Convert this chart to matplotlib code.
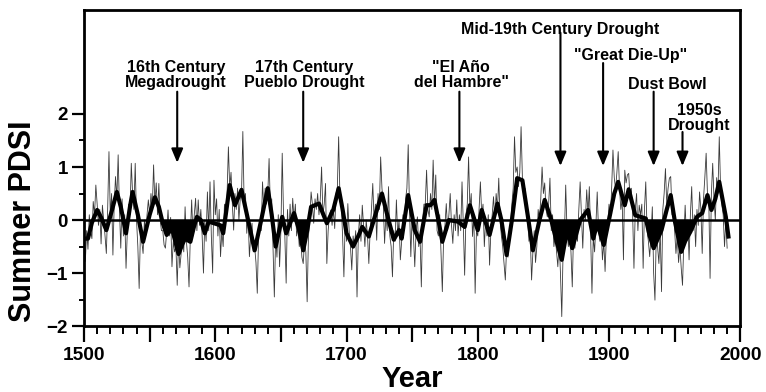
import numpy as np
import matplotlib
matplotlib.use("Agg")
import matplotlib.pyplot as plt
from matplotlib.ticker import MultipleLocator, FixedLocator, FuncFormatter

plt.rcParams['font.family'] = ['Liberation Sans', 'DejaVu Sans']
plt.rcParams['font.weight'] = 'bold'

# annual summer PDSI, 1500-1990 (one row per decade)
pdsi_start = 1500
pdsi_annual = [
    -0.3, -0.78, -0.2, -0.55, 0.1, -0.2, -0.35, 0.35, 0.1, 0.66,
    0.3, -0.1, 0.2, -0.45, 0.28, 0.0, -0.3, -0.63, 0.2, 1.29,
    0.1, 0.5, -0.66, 0.3, 0.82, 0.4, 1.23, 0.2, -0.53, 0.4,
    -0.3, 0.1, -0.91, -0.2, 0.3, 0.1, 1.07, 0.5, 0.2, 1.07,
    0.0, -0.5, -1.29, -0.2, -0.4, -0.63, 0.0, -0.3, 0.1, 0.38,
    0.1, 0.5, 0.2, 1.04, 0.3, 0.7, 0.1, 0.69, 0.0, -0.2,
    -0.2, -0.47, -0.53, -0.2, 0.19, -0.3, 0.05, -0.88, -0.4, -0.6,
    -0.5, -1.23, -0.4, -0.9, -0.63, -0.3, -0.6, 0.25, -0.4, -0.7,
    -1.26, -0.3, 0.38, -0.3, 0.1, 0.41, -0.2, 0.38, -0.1, 0.2,
    -0.3, -1.0, 0.0, -0.4, 0.53, -0.2, 0.72, -0.3, -1.0, 0.75,
    0.1, 0.4, -0.3, 0.2, -0.69, -0.2, -0.5, 0.3, 0.0, 0.5,
    1.38, 0.6, 0.9, 0.3, -0.19, 0.5, 0.2, 0.6, 0.0, 0.4,
    0.5, 1.67, 0.3, 0.5, -0.25, 0.1, -0.69, -0.3, -0.06, -0.6,
    -0.5, -0.8, -1.38, -0.3, 0.0, -0.2, 0.72, 0.2, 0.6, 0.3,
    0.5, 1.16, 0.2, 0.4, -0.5, -1.45, -0.3, -0.7, 0.1, -0.88,
    -0.2, 1.26, 0.1, -0.3, -1.19, 0.2, -0.3, 0.3, -0.2, 0.41,
    0.0, 0.3, -0.3, -0.13, -0.5, -0.3, -0.7, -0.82, -0.4, -0.6,
    -1.54, -0.3, 0.0, 0.53, 0.3, -0.06, 0.4, 0.2, 0.5, 0.1,
    0.4, 1.0, 0.1, 0.3, 0.69, -0.82, -0.2, 0.1, 0.19, -0.1,
    0.2, -0.16, 0.5, 0.6, 1.57, 0.4, 0.3, -0.3, -1.07, 0.0,
    -0.4, 0.31, -0.2, -0.5, -0.94, -0.3, -0.5, -0.2, -1.45, -0.3,
    0.1, -0.4, 0.28, -0.1, -0.5, 0.0, -0.3, -0.82, -0.2, 0.2,
    0.69, 0.0, 0.3, -0.38, 0.5, 0.2, 1.19, 0.6, 0.3, -0.44,
    0.1, -0.2, 0.63, -0.3, -0.5, -1.07, -0.2, -0.4, 0.38, -0.3,
    0.0, -0.75, -0.4, 0.1, -0.2, 0.4, 0.6, 1.42, 0.2, -0.69,
    0.1, -0.3, -0.88, -0.2, 0.06, -0.5, -0.3, -1.26, 0.0, 0.3,
    0.3, 0.94, 0.2, 0.06, 0.5, 0.2, 1.13, 0.3, 0.85, -0.2,
    -0.3, 0.1, -0.6, -1.35, -0.3, -0.1, 0.31, -0.2, 0.1, 0.5,
    -0.1, -0.44, 0.1, -0.2, 0.38, -0.3, 0.1, -0.2, 0.72, -0.1,
    -1.04, 0.1, 0.3, 1.19, 0.2, 0.5, -0.31, 0.1, -1.38, -0.2,
    -0.3, 0.2, 0.72, 0.1, 0.3, -0.5, 0.0, -0.3, 0.1, -0.85,
    -0.2, 0.1, 0.44, 0.0, 0.5, 0.2, 0.79, 0.0, -0.3, -0.5,
    -0.82, -1.13, -0.5, -0.7, -0.2, -0.13, 0.3, 0.6, 1.57, 0.9,
    1.0, 0.63, 0.9, 1.76, 0.8, 0.5, 0.6, 0.31, 0.0, -0.4,
    -0.3, -1.13, -0.6, -0.2, -0.8, -0.5, 0.2, 0.0, 0.4, 1.0,
    0.5, 0.7, 0.2, 0.06, 0.3, 0.79, -0.2, 0.1, -0.5, -0.3,
    -0.6, -0.88, -0.4, -1.0, -1.82, -0.6, -0.3, 0.66, -0.2, -0.5,
    -0.3, -0.6, -1.26, -0.2, -0.53, -0.1, -0.4, 0.2, 0.72, 0.1,
    -0.53, 0.2, 0.0, 0.57, 0.1, 0.63, -0.3, -1.38, -0.3, -0.6,
    -0.1, 0.53, -0.2, -0.4, -0.2, -0.75, -0.4, -0.97, -0.3, -0.1,
    0.3, 0.0, 0.6, 1.32, 0.8, 0.57, 0.9, 1.29, 0.6, 0.2,
    0.4, -0.75, 0.94, 0.7, 0.85, 0.88, 0.4, 0.6, 0.1, -0.91,
    0.2, 0.5, -0.2, 0.28, 0.1, 0.3, -0.91, 0.2, 0.72, -0.2,
    -0.4, -0.69, -0.3, 0.25, -1.0, -1.51, -0.3, -0.5, -0.82, -0.2,
    -1.35, 0.2, 0.5, 0.97, 0.3, 0.6, 0.79, 0.82, 0.1, 0.3,
    -0.2, -0.63, -0.3, -0.8, -0.5, -0.9, -1.23, -0.4, 0.28, -0.3,
    0.0, -0.75, 0.1, 0.63, -0.2, 0.1, -0.5, 0.2, -0.1, 0.53,
    0.2, -0.63, 0.4, 0.8, 1.26, 0.5, 0.41, -1.1, 0.5, 1.07,
    0.4, 0.0, 0.8, 0.5, 1.57, 0.6, 0.28, 0.1, -0.5, 0.0,
    -0.53,
]
years = np.arange(pdsi_start, pdsi_start + len(pdsi_annual))

# decadal smoothed curve (turning points)
smooth_years = [1500, 1503, 1506, 1510, 1513, 1517, 1521, 1525, 1528, 1532,
                1535, 1537, 1541, 1545, 1550, 1554, 1557, 1560, 1563, 1567,
                1570, 1572, 1575, 1577, 1581, 1584, 1586, 1589, 1592, 1595,
                1599, 1604, 1606, 1608, 1611, 1615, 1620, 1625, 1630, 1635,
                1640, 1643, 1646, 1651, 1654, 1660, 1664, 1667, 1670, 1673,
                1679, 1685, 1690, 1694, 1697, 1700, 1705, 1709, 1712, 1717,
                1722, 1727, 1731, 1736, 1740, 1742, 1747, 1752, 1756, 1761,
                1764, 1767, 1770, 1773, 1778, 1785, 1790, 1794, 1800, 1803,
                1809, 1815, 1818, 1822, 1826, 1830, 1834, 1838, 1842, 1847,
                1851, 1856, 1860, 1864, 1868, 1872, 1878, 1884, 1888, 1891,
                1896, 1901, 1904, 1907, 1912, 1915, 1920, 1924, 1928, 1931,
                1934, 1940, 1944, 1947, 1950, 1955, 1958, 1962, 1967, 1971,
                1975, 1978, 1981, 1984, 1989, 1991]
smooth_pdsi = [-0.35, -0.35, -0.05, 0.19, 0.05, -0.19, 0.16, 0.53, 0.25, -0.25,
               0.25, 0.53, 0.1, -0.41, 0.1, 0.43, 0.25, -0.06, -0.28, -0.16,
               -0.45, -0.64, -0.45, -0.35, -0.41, -0.1, 0.06, 0.0, -0.25, -0.03,
               -0.06, -0.1, -0.25, 0.1, 0.66, 0.28, 0.57, 0.0, -0.57, 0.0,
               0.6, 0.1, -0.5, 0.06, -0.25, 0.13, -0.2, -0.57, -0.2, 0.25,
               0.31, -0.06, 0.2, 0.6, 0.2, -0.25, -0.5, -0.3, -0.13, -0.31,
               0.1, 0.5, 0.1, -0.37, -0.19, -0.35, 0.47, -0.19, -0.41, 0.28,
               0.28, 0.38, 0.0, -0.41, 0.0, -0.03, -0.13, 0.28, -0.19, 0.19,
               -0.28, 0.31, 0.0, -0.66, 0.0, 0.79, 0.75, 0.1, -0.57, 0.0,
               0.38, 0.0, -0.4, -0.75, -0.19, -0.53, 0.0, 0.19, -0.35, -0.06,
               -0.47, 0.13, 0.5, 0.72, 0.28, 0.58, 0.09, 0.06, 0.03, -0.3,
               -0.53, -0.19, 0.2, 0.47, 0.0, -0.6, -0.4, -0.22, 0.06, 0.13,
               0.47, 0.19, 0.4, 0.72, 0.06, -0.31]

# drought periods that are shaded black
drought_windows = [(1558, 1586), (1661, 1673), (1855, 1879),
                   (1884, 1900), (1927, 1942), (1950, 1966)]

labels = ["16th Century\nMegadrought", "17th Century\nPueblo Drought",
          "\"El A\u00f1o\ndel Hambre\"", "Mid-19th Century Drought",
          "\"Great Die-Up\"", "Dust Bowl", "1950s\nDrought"]
label_x = [1570.1, 1667.7, 1787.3, 1862.8, 1916.2, 1944.7, 1968.7]
label_y = [3.02, 3.02, 3.02, 3.74, 3.25, 2.70, 2.21]
arrow_x = [1571, 1667, 1786, 1863, 1895.5, 1934, 1956]
arrow_top = [2.42, 2.42, 2.42, 3.53, 2.96, 2.42, 1.66]
arrow_tip = [1.08, 1.08, 1.08, 1.02, 1.02, 1.02, 1.02]

fig = plt.figure(figsize=(7.66, 3.92), dpi=100)
ax = fig.add_axes([0.1097, 0.168, 0.8567, 0.8065])

ax.plot(years, pdsi_annual, color='#3a3a3a', lw=0.6, zorder=2)

sx = np.array(smooth_years)
sy = np.array(smooth_pdsi)
in_drought = np.zeros(len(sx), dtype=bool)
for a, b in drought_windows:
    in_drought |= (sx >= a) & (sx <= b)
ax.fill_between(sx, sy, 0, where=(sy < 0) & in_drought, interpolate=True,
                color='black', lw=0, zorder=3)
ax.plot(sx, sy, color='black', lw=3.0, solid_joinstyle='round', zorder=3)
ax.axhline(0, color='black', lw=1.8, zorder=4)

for i in range(len(labels)):
    ax.text(label_x[i], label_y[i], labels[i], ha='center', va='top',
            fontsize=11.5, fontweight='bold', linespacing=1.05)
    ax.annotate('', xy=(arrow_x[i], arrow_tip[i]),
                xytext=(arrow_x[i], arrow_top[i]),
                arrowprops=dict(arrowstyle='-|>,head_length=0.6,head_width=0.25',
                                color='black', lw=1.5, mutation_scale=14,
                                shrinkA=0, shrinkB=0))

ax.set_xlim(1500, 2000)
ax.set_ylim(-2, 3.96)
ax.xaxis.set_major_locator(MultipleLocator(50))
ax.xaxis.set_minor_locator(MultipleLocator(10))
ax.xaxis.set_major_formatter(FuncFormatter(
    lambda v, p: '%d' % v if int(round(v)) % 100 == 0 else ''))
ax.yaxis.set_major_locator(FixedLocator([-2, -1, 0, 1, 2]))
ax.yaxis.set_minor_locator(FixedLocator([-1.5, -0.5, 0.5, 1.5]))

for s in ax.spines.values():
    s.set_linewidth(2)
ax.tick_params(axis='x', which='major', length=11.5, width=1.6, pad=3.5,
               labelsize=13.8, direction='out')
ax.tick_params(axis='x', which='minor', length=6, width=1.4, direction='out')
ax.tick_params(axis='y', which='major', length=8.6, width=1.6, pad=3,
               labelsize=13.5, direction='out')
ax.tick_params(axis='y', which='minor', length=3.6, width=1.4, direction='out')
for t in ax.get_xticklabels() + ax.get_yticklabels():
    t.set_fontweight('bold')

ax.set_ylabel('Summer PDSI', fontsize=22, fontweight='bold')
ax.yaxis.set_label_coords(-0.07, 0.332)
ax.set_xlabel('Year', fontsize=21, fontweight='bold')
ax.xaxis.set_label_coords(0.5, -0.124)

fig.savefig('out.png', dpi=100)
